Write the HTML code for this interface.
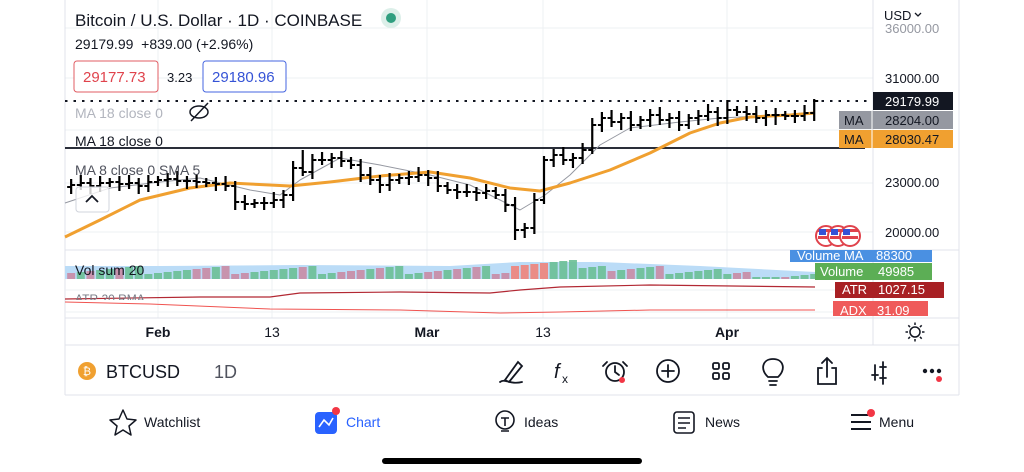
<!DOCTYPE html>
<html><head><meta charset="utf-8"><style>
body{margin:0;width:1024px;height:472px;background:#fff;overflow:hidden;font-family:"Liberation Sans",sans-serif;position:relative}
.a{position:absolute;white-space:nowrap}
</style></head><body>
<svg id="s" width="1024" height="472" style="position:absolute;left:0;top:0" font-family="Liberation Sans, sans-serif"></svg>
<script>
const s=document.getElementById('s');let h='';
const L=(x1,y1,x2,y2,c,w,extra)=>h+=`<line x1="${x1}" y1="${y1}" x2="${x2}" y2="${y2}" stroke="${c}" stroke-width="${w}" ${extra||''}/>`;
const R=(x,y,w,hh,f,extra)=>h+=`<rect x="${x}" y="${y}" width="${w}" height="${hh}" fill="${f}" ${extra||''}/>`;
const T=(x,y,t,sz,c,extra)=>h+=`<text x="${x}" y="${y}" font-size="${sz}" fill="${c}" ${extra||''}>${t}</text>`;
// grid
[28,78,130,183,232].forEach(y=>L(65,y,873,y,'#eef0f3',1));
[158,272,427,543,727].forEach(x=>L(x,0,x,318,'#eef0f3',1));
// panel borders
L(65,0,65,395,'#e0e3eb',1);L(959,0,959,395,'#e0e3eb',1);L(873,0,873,345,'#e0e3eb',1);
L(65,250,959,250,'#e0e3eb',1);L(65,290,873,290,'#eef0f3',1);L(65,312,873,312,'#eef0f3',1);
L(65,318,959,318,'#e0e3eb',1);L(65,345,959,345,'#e0e3eb',1);L(65,395,959,395,'#e0e3eb',1);
// price levels
L(65,101,870,101,'#131722',2,'stroke-dasharray="2.5,6"');
L(65,148,865,148,'#2a2e39',2);
// bars
const c=[0,185,183,186,183,182,184,183,186,182,180,179,181,181,182,183,184,186,202,204,203,203,200,195,168,172,160,160,158,161,165,175,180,185,180,178,177,175,178,186,190,192,192,193,191,195,205,230,228,200,160,155,160,158,150,125,118,122,118,125,120,115,120,118,125,118,116,112,118,110,112,114,118,115,115,116,116,113,101];
const X=i=>158+(i-10)*9.65;
let orange=[[65,237],[100,220],[140,200],[190,188],[230,183],[290,186],[330,182],[380,176],[430,172],[470,178],[510,188],[540,191],[570,183],[610,170],[650,153],[690,133],[720,123],[750,117],[790,115],[815,113]];
let gray=[[65,203],[110,188],[160,182],[200,178],[250,190],[280,195],[300,180],[340,158],[380,165],[430,175],[470,185],[500,200],[520,210],[545,195],[570,175],[600,145],[630,128],[680,122],[720,118],[780,115],[815,112]];
const pl=(p,c,w)=>h+=`<polyline points="${p.map(q=>q.join(',')).join(' ')}" fill="none" stroke="${c}" stroke-width="${w}" stroke-linejoin="round"/>`;
pl(gray,'#9598a1',1);pl(orange,'#f0a030',3);
for(let i=1;i<=78;i++){const x=X(i),o=i>1?c[i-1]:c[i]+2,cl=c[i];
 let hi=Math.min(o,cl)-4-((i*7)%5),lo=Math.max(o,cl)+4+((i*3)%5);
 if(i==25)hi=150;if(i==47)lo=240;if(i==55)hi=118;if(i==69)hi=100;if(i==74)lo=125;if(i==78)hi=99;
 L(x,hi,x,lo,'#000',2.2);L(x-4,o,x,o,'#000',2);L(x,cl,x+4,cl,'#000',2);}
// volume
h+=`<path d="M160,266 L300,265 L450,266 L520,262 L600,262 L700,266 L815,272 L815,279 L160,279Z" fill="#bbdcf7"/>`;
R(65,266,95,13,'#bbdcf7');
for(let i=1;i<=78;i++){const x=X(i);const hv=5+((i*37)%9)+(i>=47&&i<=56?6:0)-(i>68?6:0);const up=c[i]<=c[i-1]||i%4==0;
 const col=(i>=47&&i<=50)?'#f0837a':(up?'#6cbf95':'#c98ba4');R(x-4,279-Math.max(hv,2),8,Math.max(hv,2),col,'opacity="0.9"');}
// ATR/ADX
pl([[65,299],[200,297],[270,297],[300,293],[400,292],[490,293],[520,290],[560,287],[650,285],[815,287]],'#b22833',1.2);
pl([[65,302],[150,304],[270,309],[400,310],[500,313],[560,312],[650,310],[815,310]],'#f05350',1);
// text overlays
T(75,26,'Bitcoin / U.S. Dollar · 1D · COINBASE',17,'#131722');
h+=`<circle cx="391" cy="18" r="10" fill="#dcefe9"/><circle cx="391" cy="18" r="5" fill="#2f9e7f"/>`;
T(75,49,'29179.99 &#160;+839.00 (+2.96%)',14,'#131722');
h+=`<rect x="74" y="61" width="84" height="31" rx="3" fill="#fff" stroke="#e05c63"/><rect x="203" y="61" width="83" height="31" rx="3" fill="#fff" stroke="#4666e0"/>`;
T(83,82,'29177.73',15,'#e0434c');T(167,82,'3.23',13,'#131722');T(212,82,'29180.96',15,'#3553d6');
T(75,118,'MA 18 close 0',14,'#b2b5be');
h+=`<ellipse cx="199" cy="112" rx="9" ry="6" fill="none" stroke="#131722" stroke-width="1.5"/><line x1="191" y1="121" x2="208" y2="103" stroke="#131722" stroke-width="1.5"/>`;
T(75,146,'MA 18 close 0',14,'#131722');
T(75,175,'MA 8 close 0 SMA 5',14,'#50535e');
h+=`<rect x="76" y="187" width="33" height="25" rx="3" fill="#fff" fill-opacity="0.8" stroke="#d1d4dc"/><path d="M86,202 L92,196 L98,202" fill="none" stroke="#131722" stroke-width="1.8"/>`;
T(75,275,'Vol sum 20',14,'#131722');
T(75,303,'ATR 20 RMA',12,'#787b86','clip-path="inset(0 0 6px 0)"');
// right axis
T(884,20,'USD',13,'#131722');h+=`<path d="M915,13 L918,16 L921,13" fill="none" stroke="#131722" stroke-width="1.3"/>`;
T(885,33,'36000.00',13,'#9598a1');
[[83,'31000.00'],[187,'23000.00'],[237,'20000.00']].forEach(a=>T(885,a[0],a[1],13,'#131722'));
R(873,92,80,18,'#131722');T(885,106,'29179.99',13,'#fff');
R(839,111,114,18,'#9598a1');L(872,111,872,129,'#fff',1);T(844,125,'MA',13,'#131722');T(885,125,'28204.00',13,'#131722');
R(839,130,114,18,'#f0a030');L(872,130,872,148,'#fff',1);T(844,144,'MA',13,'#131722');T(885,144,'28030.47',13,'#131722');
R(790,250,142,12,'#4a90e2');T(797,260,'Volume MA',13,'#fff');T(876,260,'88300',13,'#fff');
R(815,263,117,17,'#5cae55');T(820,276,'Volume',13,'#fff');T(878,276,'49985',13,'#fff');
R(835,282,109,16,'#a82024');T(842,294,'ATR',13,'#fff');T(878,294,'1027.15',13,'#fff');
R(833,301,95,15,'#ef5a5a');T(840,315,'ADX',13,'#fff');T(877,315,'31.09',13,'#fff');
[[826],[838],[850]].forEach(a=>h+=`<circle cx="${a[0]}" cy="236" r="10" fill="#fff" stroke="#e0434c" stroke-width="2"/><rect x="${a[0]-8}" y="229" width="16" height="3" fill="#e0434c"/><rect x="${a[0]-8}" y="236" width="16" height="3" fill="#e0434c"/><rect x="${a[0]-7}" y="229" width="7" height="6" fill="#3553d6"/>`);
// time axis
T(158,337,'Feb',14,'#131722','text-anchor="middle" font-weight="bold"');T(272,337,'13',14,'#131722','text-anchor="middle"');
T(427,337,'Mar',14,'#131722','text-anchor="middle" font-weight="bold"');T(543,337,'13',14,'#131722','text-anchor="middle"');
T(727,337,'Apr',14,'#131722','text-anchor="middle" font-weight="bold"');
h+=`<circle cx="915" cy="332" r="5" fill="none" stroke="#131722" stroke-width="1.5"/>`;
for(let k=0;k<8;k++){const a=k*Math.PI/4;L(915+7*Math.cos(a),332+7*Math.sin(a),915+9.5*Math.cos(a),332+9.5*Math.sin(a),'#131722',1.5);}
// toolbar
h+=`<circle cx="87" cy="371" r="9" fill="#f0a030"/>`;T(87,375,'₿',11,'#fff','text-anchor="middle"');
T(106,378,'BTCUSD',18,'#131722');T(214,378,'1D',18,'#50535e');
const ic='fill="none" stroke="#131722" stroke-width="1.8" stroke-linecap="round"';
h+=`<path d="M505,380 L518,362 L522,366 L509,382Z M500,382 C505,378 510,385 522,382" ${ic}/>`;
T(554,378,'f',20,'#131722','font-style="italic"');T(562,383,'x',12,'#131722');
h+=`<circle cx="615" cy="372" r="9" ${ic}/><path d="M615,366 L615,372 L619,375 M607,362 L603,366 M623,362 L627,366" ${ic}/><circle cx="622" cy="380" r="3" fill="#f23645"/>`;
h+=`<circle cx="668" cy="371" r="11" ${ic}/><path d="M668,365 V377 M662,371 H674" ${ic}/>`;
h+=`<rect x="713" y="363" width="6" height="6" rx="1.5" ${ic}/><rect x="723" y="363" width="6" height="6" rx="1.5" ${ic}/><rect x="713" y="373" width="6" height="6" rx="1.5" ${ic}/><rect x="723" y="373" width="6" height="6" rx="1.5" ${ic}/>`;
h+=`<path d="M768,377 C760,370 762,359 773,359 C784,359 786,370 778,377 Z M769,381 H777 M770,385 H776" ${ic}/>`;
h+=`<path d="M822,368 H818 V384 H836 V368 H832 M827,377 V358 M822,363 L827,358 L832,363" ${ic}/>`;
h+=`<path d="M875,365 V380 M883,362 V384 M872,375 H878 M880,367 H886 M880,378 H886" ${ic}/>`;
h+=`<circle cx="925" cy="371" r="2.2" fill="#131722"/><circle cx="932" cy="371" r="2.2" fill="#131722"/><circle cx="939" cy="371" r="2.2" fill="#131722"/><circle cx="939" cy="379" r="3" fill="#f23645"/>`;
// tab bar
h+=`<path d="M123,410 L127,419 L136,420 L129,426 L131,435 L123,430 L115,435 L117,426 L110,420 L119,419Z" fill="none" stroke="#131722" stroke-width="1.5" stroke-linejoin="round"/>`;
T(144,427,'Watchlist',14,'#131722');
R(315,412,22,22,'#2962ff','rx="4"');h+=`<path d="M319,427 L324,420 L329,425 L333,418" fill="none" stroke="#fff" stroke-width="1.6"/><circle cx="336" cy="411" r="4" fill="#f23645"/>`;
T(346,427,'Chart',14,'#2962ff');
h+=`<circle cx="505" cy="420" r="9" fill="none" stroke="#131722" stroke-width="1.6"/><path d="M501,418 H509 M505,418 V426 M501,431 H509" fill="none" stroke="#131722" stroke-width="1.6"/>`;
T(524,427,'Ideas',14,'#131722');
h+=`<rect x="674" y="412" width="20" height="21" rx="3" fill="none" stroke="#131722" stroke-width="1.6"/><path d="M678,418 H690 M678,423 H690 M678,428 H686" stroke="#131722" stroke-width="1.6"/>`;
T(705,427,'News',14,'#131722');
h+=`<path d="M851,415 H868 M851,422 H871 M851,429 H871" stroke="#131722" stroke-width="2"/><circle cx="871" cy="413" r="4" fill="#f23645"/>`;
T(879,427,'Menu',14,'#131722');
R(382,458,260,6,'#000','rx="3"');
s.innerHTML=h;
</script>
</body></html>
